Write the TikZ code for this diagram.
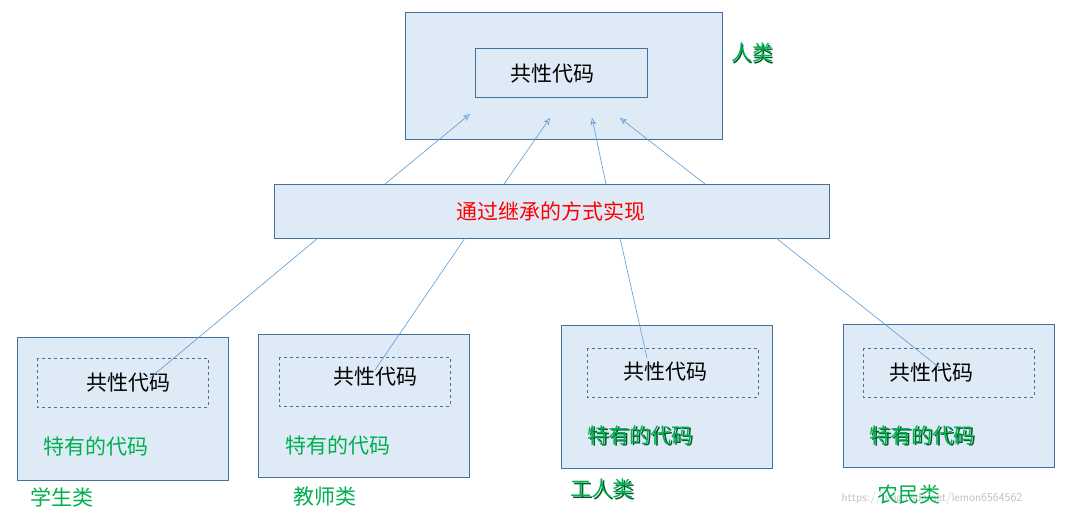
\documentclass[tikz,border=0pt]{standalone}
\usepackage{fontspec}
\newfontfamily\cjk{Noto Sans CJK SC}
\usetikzlibrary{arrows.meta}
\definecolor{bfill}{HTML}{DEEAF6}
\definecolor{bdraw}{HTML}{41719C}
\definecolor{lnk}{HTML}{5B9BD5}
\definecolor{grn}{HTML}{00B050}
\begin{document}
\begin{tikzpicture}[x=1pt,y=-1pt,font=\cjk\fontsize{21}{24}\selectfont,
 box/.style={draw=bdraw,fill=bfill,line width=0.7pt},
 inbox/.style={draw=bdraw,line width=0.6pt},
 dbox/.style={draw=bdraw,dashed,line width=0.6pt},
 lk/.style={draw=lnk,line width=0.6pt},
 ar/.style={lk,-{Stealth[open,length=7pt,width=6pt]}},
 g/.style={text=grn},
 gs/.style={text=grn!50!black}]
\useasboundingbox (0,0) rectangle (1067,517);
\fill[white] (0,0) rectangle (1067,517);
% top
\draw[box] (405,12) rectangle (722,139);
\draw[inbox] (475,48) rectangle (647,97);
\node (tt) at (552,74) {共性代码};
\node[gs] at (753.5,54.5) {人类};
\node[g] (rl) at (752,53) {人类};
% middle
\draw[box] (274,184) rectangle (829,238);
\node[text=red] (mid) at (551,211) {通过继承的方式实现};
% bottom boxes
\foreach \x/\y/\ix/\iy/\tx/\ty/\n in {
 17/337/37/358/128/383/a,
 258/334/279/357/375/377/b,
 561/325/587/348/665/372/c,
 843/324/863/348/931/373/d}{
 \draw[box] (\x,\y) rectangle ++(211,143);
 \draw[dbox] (\ix,\iy) rectangle ++(171,49);
 \node (t\n) at (\tx,\ty) {共性代码};
}
\node[text=black!25,font=\sffamily\fontsize{12}{14}\selectfont] (wm) at (932,498) {https://blog.csdn.net/lemon6564562};
\node[g] (sa) at (96,446) {特有的代码};
\node[g] (sb) at (338,445) {特有的代码};
\node[gs] at (641.5,436.5) {特有的代码};
\node[g] (sc) at (640,435) {特有的代码};
\node[gs] at (923.5,436.5) {特有的代码};
\node[g] (sd) at (922,435) {特有的代码};
\node[g] (la) at (62,497) {学生类};
\node[g] (lb) at (325,497) {教师类};
\node[gs] at (603.5,490.5) {工人类};
\node[g] (lc) at (602,489) {工人类};
\node[g] (ld) at (909,495) {农民类};
% connectors
\coordinate (m1) at (385,184); \coordinate (t1) at (470,114);
\coordinate (m2) at (504,184); \coordinate (t2) at (550,118);
\coordinate (m3) at (606,184); \coordinate (t3) at (592,118);
\coordinate (m4) at (705,184); \coordinate (t4) at (620,118);
\draw[ar] (m1) -- (t1);
\draw[ar] (m2) -- (t2);
\draw[ar] (m3) -- (t3);
\draw[ar] (m4) -- (t4);
\coordinate (b1) at (318,238); \coordinate (p1) at (150,378);
\coordinate (b2) at (465,238); \coordinate (p2) at (375,370);
\coordinate (b3) at (620,238); \coordinate (p3) at (647,358);
\coordinate (b4) at (776,238); \coordinate (p4) at (940,368);
\draw[lk] (p1) -- (b1);
\draw[lk] (p2) -- (b2);
\draw[lk] (p3) -- (b3);
\draw[lk] (p4) -- (b4);
\end{tikzpicture}
\end{document}
